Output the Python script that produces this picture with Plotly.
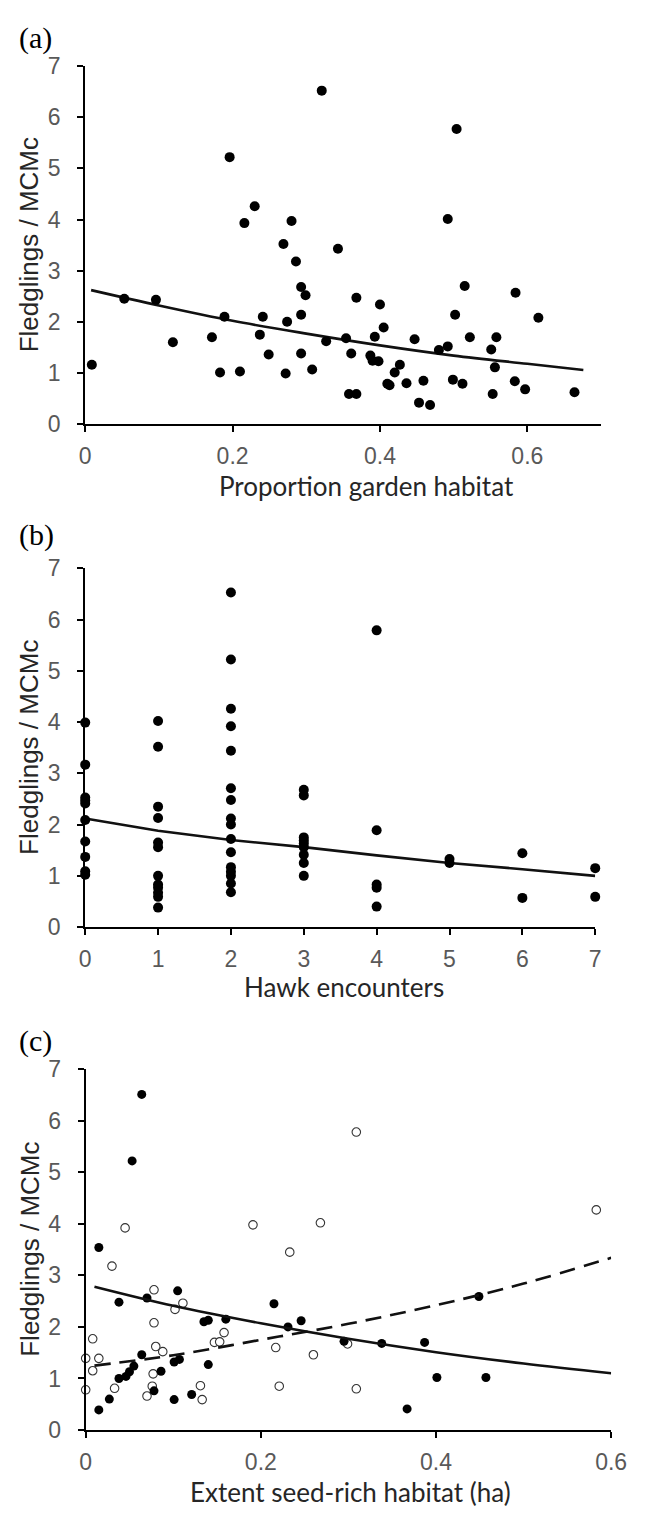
import plotly.graph_objects as go

W, H = 646, 1520

# ---------------- data ----------------
# (a) Proportion garden habitat
a_x = [0.196, 0.321, 0.504, 0.230, 0.216, 0.280, 0.492, 0.269, 0.343, 0.286, 0.293, 0.299, 0.293,
       0.274, 0.241, 0.189, 0.096, 0.053, 0.009, 0.119, 0.172, 0.183, 0.210, 0.237, 0.249, 0.272,
       0.293, 0.308, 0.327, 0.354, 0.361, 0.358, 0.368, 0.368, 0.393, 0.387, 0.390, 0.398, 0.400,
       0.405, 0.410, 0.413, 0.420, 0.427, 0.436, 0.447, 0.459, 0.453, 0.468, 0.480, 0.492, 0.502,
       0.499, 0.512, 0.515, 0.522, 0.551, 0.558, 0.556, 0.553, 0.584, 0.583, 0.597, 0.615, 0.664]
a_y = [5.22, 6.52, 5.77, 4.26, 3.93, 3.97, 4.01, 3.52, 3.43, 3.18, 2.68, 2.52, 2.14,
       2.00, 2.10, 2.10, 2.43, 2.45, 1.16, 1.60, 1.70, 1.01, 1.03, 1.75, 1.36, 0.99,
       1.38, 1.07, 1.62, 1.68, 1.38, 0.59, 0.59, 2.47, 1.71, 1.34, 1.24, 1.23, 2.34,
       1.89, 0.79, 0.76, 1.01, 1.16, 0.80, 1.66, 0.85, 0.42, 0.375, 1.45, 1.52, 2.14,
       0.87, 0.79, 2.70, 1.70, 1.46, 1.70, 1.11, 0.59, 2.57, 0.84, 0.68, 2.08, 0.625]
a_fit_x = [0.008, 0.1, 0.2, 0.3, 0.4, 0.5, 0.6, 0.676]
a_fit_y = [2.62, 2.32, 2.02, 1.77, 1.54, 1.34, 1.18, 1.06]

# (b) Hawk encounters
b_x = [0]*10 + [1]*12 + [2]*16 + [3]*9 + [4]*5 + [5]*2 + [6]*2 + [7]*2
b_y = [3.99, 3.17, 2.53, 2.47, 2.41, 2.09, 1.67, 1.37, 1.09, 1.02,
       4.02, 3.52, 2.35, 2.13, 1.65, 1.56, 1.00, 0.83, 0.77, 0.67, 0.59, 0.38,
       6.53, 5.22, 4.26, 3.92, 3.44, 2.71, 2.48, 2.12, 2.00, 1.72, 1.46, 1.17, 1.08, 1.00, 0.85, 0.68,
       2.68, 2.57, 1.75, 1.69, 1.63, 1.56, 1.41, 1.25, 1.00,
       5.79, 1.89, 0.83, 0.77, 0.40,
       1.33, 1.25,
       1.44, 0.57,
       1.15, 0.59]
b_fit_x = [0, 1, 2, 3, 4, 5, 6, 7]
b_fit_y = [2.12, 1.88, 1.70, 1.56, 1.40, 1.25, 1.13, 1.00]

# (c) Extent seed-rich habitat (ha): filled and open groups
c_fill_x = [0.064, 0.053, 0.015, 0.038, 0.070, 0.105, 0.135, 0.140, 0.160, 0.215, 0.231, 0.246,
            0.295, 0.338, 0.387, 0.401, 0.457, 0.367, 0.449, 0.015, 0.027, 0.038, 0.046, 0.050,
            0.055, 0.064, 0.078, 0.086, 0.101, 0.107, 0.101, 0.121, 0.140]
c_fill_y = [6.51, 5.22, 3.54, 2.48, 2.56, 2.70, 2.10, 2.13, 2.15, 2.45, 2.00, 2.12,
            1.72, 1.68, 1.70, 1.02, 1.02, 0.41, 2.59, 0.39, 0.60, 1.00, 1.04, 1.13,
            1.24, 1.46, 0.76, 1.14, 1.32, 1.37, 0.59, 0.69, 1.27]
c_open_x = [0.309, 0.583, 0.045, 0.191, 0.268, 0.233, 0.030, 0.078, 0.078, 0.102, 0.111, 0.008,
            0.000, 0.015, 0.008, 0.000, 0.033, 0.080, 0.088, 0.077, 0.076, 0.070, 0.131, 0.133,
            0.147, 0.153, 0.158, 0.217, 0.221, 0.260, 0.299, 0.309]
c_open_y = [5.78, 4.27, 3.92, 3.98, 4.02, 3.45, 3.18, 2.72, 2.08, 2.34, 2.46, 1.77,
            1.39, 1.39, 1.15, 0.78, 0.81, 1.62, 1.52, 1.09, 0.85, 0.66, 0.86, 0.59,
            1.70, 1.71, 1.89, 1.60, 0.85, 1.46, 1.67, 0.80]
c_fit_x = [0.01, 0.1, 0.2, 0.3, 0.4, 0.5, 0.6]
c_fit_solid_y = [2.78, 2.41, 2.07, 1.77, 1.51, 1.29, 1.10]
c_fit_dash_y = [1.25, 1.45, 1.75, 2.06, 2.42, 2.84, 3.34]

y_ticks = [0, 1, 2, 3, 4, 5, 6, 7]

# ---------------- layout helpers ----------------
def dom_x(x0, x1):
    return [x0 / W, x1 / W]

def dom_y(top, bottom):
    return [1 - bottom / H, 1 - top / H]

# panel pixel boxes: (left, right, top, bottom)
boxes = {
    1: (82.0, 616.0, 54.0, 418.3),
    2: (82.0, 610.0, 565.0, 930.0),
    3: (82.5, 626.5, 1074.5, 1441.7),
}

fig = go.Figure()

BLACK = "#000000"
MS = 10

def add_scatter(x, y, n, **kw):
    ax = "" if n == 1 else str(n)
    fig.add_trace(go.Scatter(x=x, y=y, xaxis="x" + ax, yaxis="y" + ax, showlegend=False,
                             cliponaxis=False, **kw))

add_scatter(a_fit_x, a_fit_y, 1, mode="lines", line=dict(color="#111", width=2.6, shape="spline"))
add_scatter(a_x, a_y, 1, mode="markers", marker=dict(size=MS, color=BLACK))

add_scatter(b_fit_x, b_fit_y, 2, mode="lines", line=dict(color="#111", width=2.6))
add_scatter(b_x, b_y, 2, mode="markers", marker=dict(size=MS, color=BLACK))

add_scatter(c_open_x, c_open_y, 3, mode="markers",
            marker=dict(size=8.5, color="white", line=dict(color="#333", width=1.1)))
add_scatter(c_fill_x, c_fill_y, 3, mode="markers", marker=dict(size=9, color=BLACK))
add_scatter(c_fit_x, c_fit_solid_y, 3, mode="lines", line=dict(color="#111", width=2.6, shape="spline"))
add_scatter(c_fit_x, c_fit_dash_y, 3, mode="lines",
            line=dict(color="#111", width=2.6, shape="spline", dash="16px,9px"))

tick_font = dict(family="Liberation Sans, Arial, sans-serif", size=23, color="#595959")

def axis_common():
    return dict(showgrid=False, zeroline=False, showline=True, linecolor="#000", linewidth=2,
                ticks="outside", ticklen=6, tickwidth=1.8, tickcolor="#000",
                tickfont=tick_font, fixedrange=True)

x_ranges = {1: [0, 0.7], 2: [0, 7], 3: [0, 0.6]}
x_ticks = {1: [0, 0.2, 0.4, 0.6], 2: [0, 1, 2, 3, 4, 5, 6, 7], 3: [0, 0.2, 0.4, 0.6]}
x_text = {1: ["0", "0.2", "0.4", "0.6"], 2: [str(v) for v in x_ticks[2]], 3: ["0", "0.2", "0.4", "0.6"]}

layout = dict(width=W, height=H, margin=dict(l=0, r=0, t=0, b=0),
              plot_bgcolor="white", paper_bgcolor="white", showlegend=False)

for n, (l, r, t, b) in boxes.items():
    ax = "" if n == 1 else str(n)
    xa = axis_common()
    xa.update(domain=dom_x(l, r), range=x_ranges[n], tickvals=x_ticks[n], ticktext=x_text[n],
              anchor="y" + ax, ticklabelstandoff=4)
    ya = axis_common()
    ya.update(domain=dom_y(t, b), range=[0, 7], tickvals=y_ticks, anchor="x" + ax,
              ticklabelstandoff=12)
    layout["xaxis" + ax] = xa
    layout["yaxis" + ax] = ya

fig.update_layout(**layout)

def px(xp, yp):
    return xp / W, 1 - yp / H

annotations = []
labels = [("(a)", 25), ("(b)", 531), ("(c)", 1046)]
for txt, yc in labels:
    xx, yy = px(11, yc)
    annotations.append(dict(text=txt, x=xx, y=yy, xref="paper", yref="paper", xanchor="left",
                            yanchor="middle", showarrow=False,
                            font=dict(family="Liberation Serif, Times New Roman, serif", size=30, color="#000")))

x_titles = [("Proportion garden habitat", 528, 481), ("Hawk encounters", 455, 991),
            ("Extent seed-rich habitat (ha)", 525, 1505)]
for txt, xr, yc in x_titles:
    xx, yy = px(xr, yc)
    annotations.append(dict(text=txt, x=xx, y=yy, xref="paper", yref="paper", xanchor="right",
                            yanchor="middle", showarrow=False,
                            font=dict(family="Lato, Open Sans, sans-serif", size=26, color="#262626")))

for n, (l, r, t, b) in boxes.items():
    xx, yy = px(24, (t + b) / 2)
    annotations.append(dict(text="Fledglings / MCMc", x=xx, y=yy, xref="paper", yref="paper",
                            xanchor="center", yanchor="middle", textangle=-90, showarrow=False,
                            font=dict(family="Liberation Sans, Arial, sans-serif", size=26, color="#262626")))

fig.update_layout(annotations=annotations)
fig.write_html("out.html")
